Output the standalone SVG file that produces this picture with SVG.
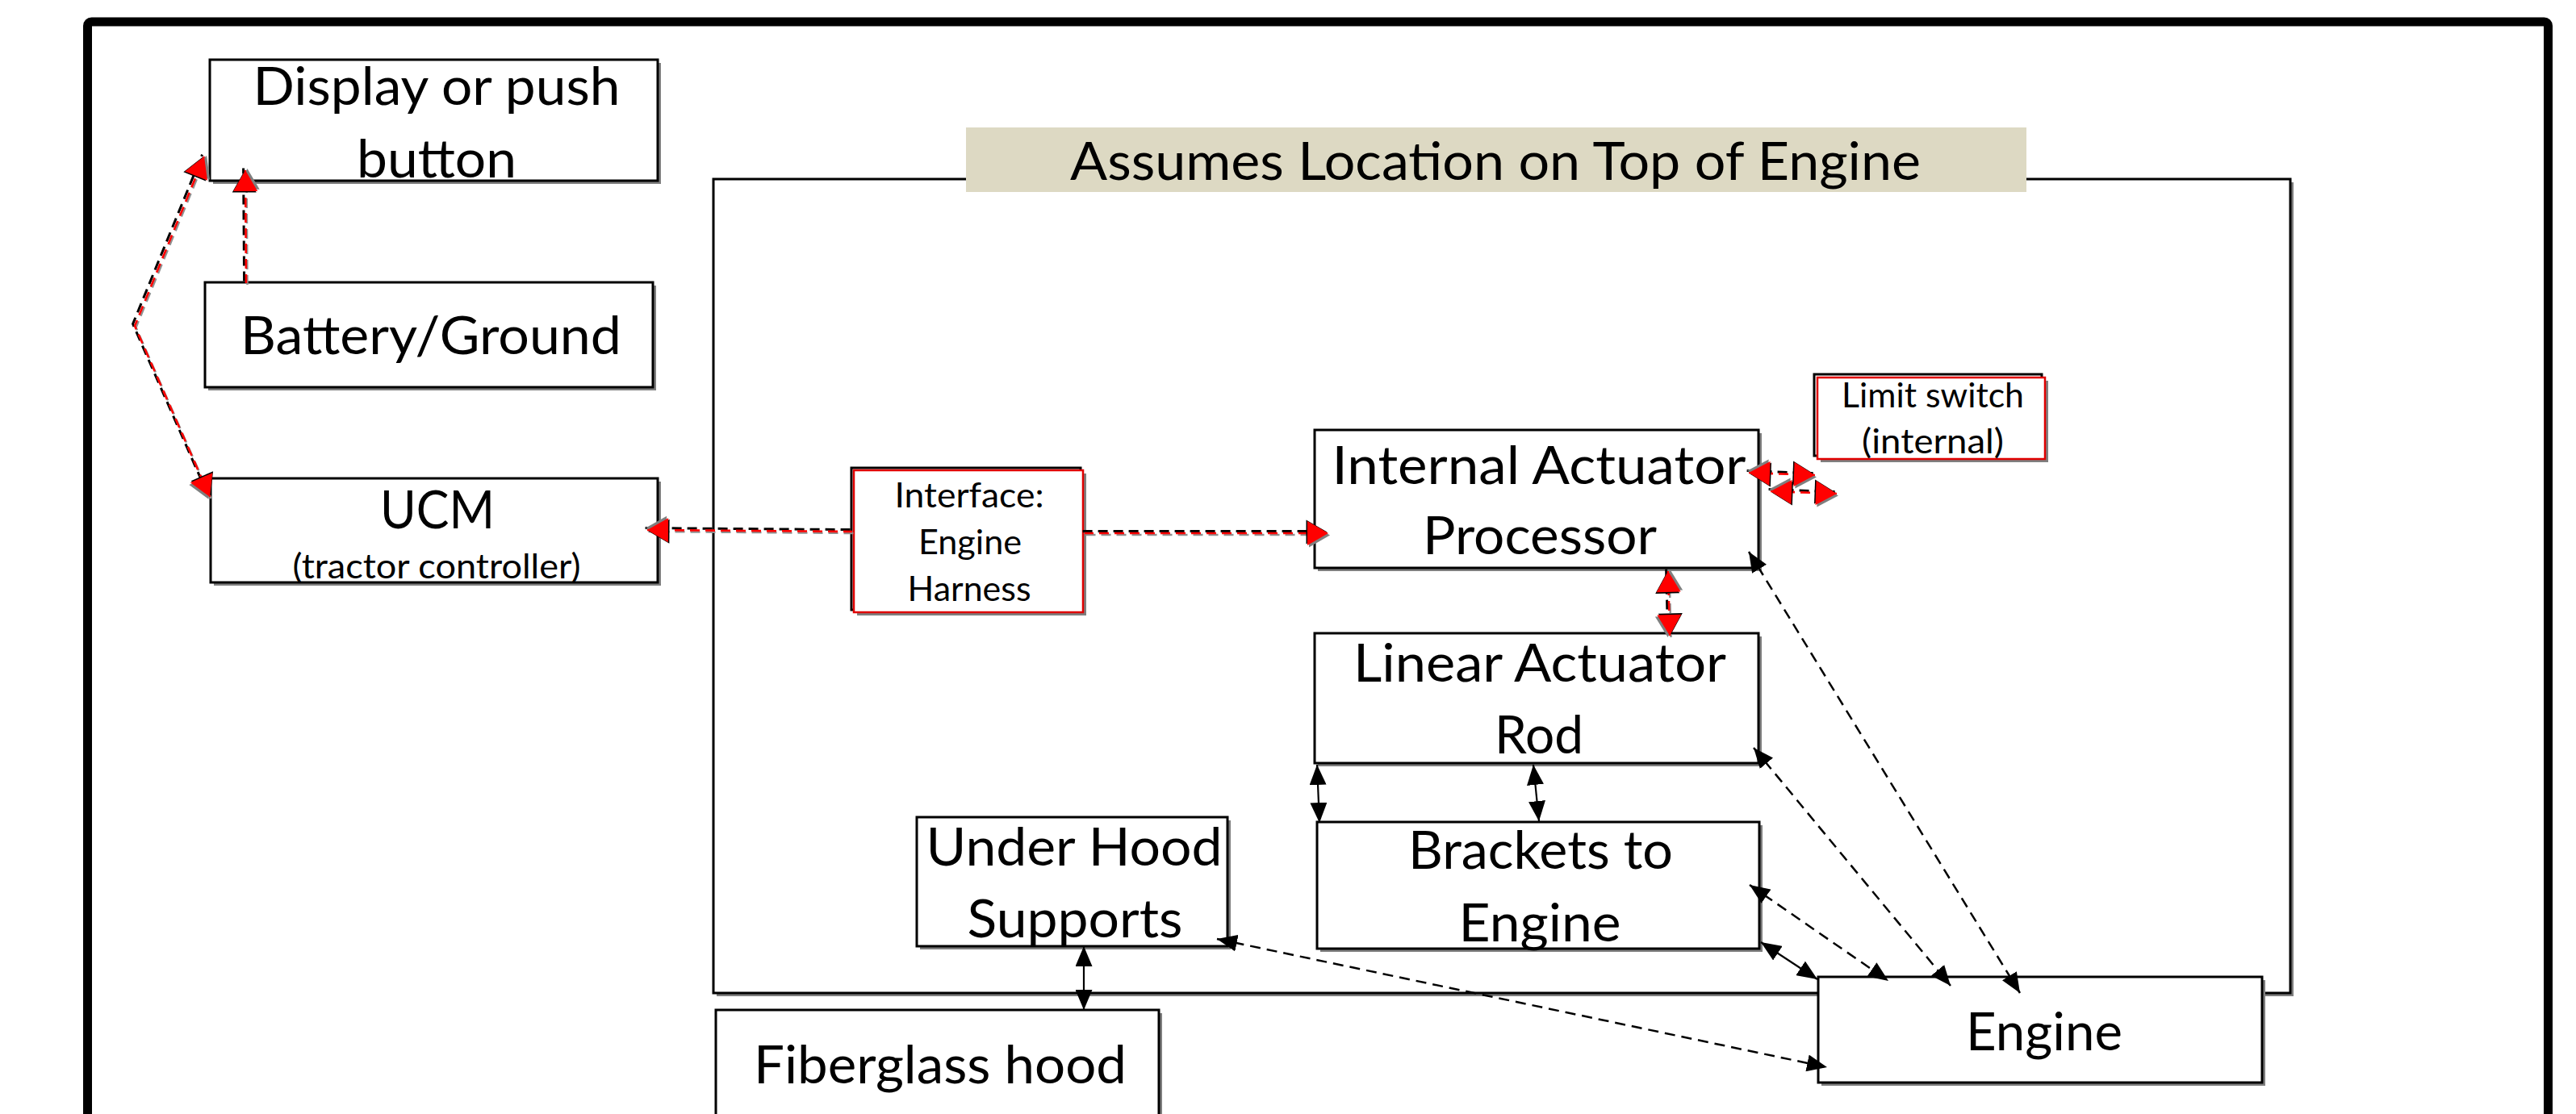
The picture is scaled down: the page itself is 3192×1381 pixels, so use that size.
<svg xmlns="http://www.w3.org/2000/svg" width="3192" height="1381" viewBox="0 0 3192 1381">
<style>
.bg{fill:#fff}
.box{fill:#fff;stroke:#000;stroke-width:3}
.sh{fill:#7f7f7f}
.blk{fill:none;stroke:#000;stroke-width:3}
.red{fill:#fff;stroke:#e00000;stroke-width:2.5}
.t{font-family:Lato,"Open Sans","Noto Sans",sans-serif;font-size:66px;text-anchor:middle;fill:#000}
.s{font-size:42px}
.rs{fill:none;stroke:#909090;stroke-width:2.5;stroke-dasharray:12 7}
.rk{fill:none;stroke:#000;stroke-width:3;stroke-dasharray:12 7}
.rr{fill:none;stroke:#ff0000;stroke-width:2.6;stroke-dasharray:12 7;stroke-dashoffset:1}
.dl{fill:none;stroke:#000;stroke-width:2.5;stroke-dasharray:13 8}
.sl{fill:none;stroke:#000;stroke-width:2.2}
</style>
<defs>
<marker id="ra" markerUnits="userSpaceOnUse" viewBox="-4 -4 36 40" markerWidth="36" markerHeight="40" refX="26" refY="15" orient="auto-start-reverse">
<path d="M2,2.5 L28,17.5 L2,32.5 Z" fill="#7f7f7f"/>
<path d="M-1.5,-1.5 L24.5,13.5 L-1.5,28.5 Z" fill="#000"/>
<path d="M0,0 L26,15 L0,30 Z" fill="#ff0000"/>
</marker>
<marker id="ab" markerUnits="userSpaceOnUse" viewBox="0 0 25 21" markerWidth="25" markerHeight="21" refX="25" refY="10.5" orient="auto-start-reverse">
<path d="M0,0 L25,10.5 L0,21 Z" fill="#000"/>
</marker>
</defs>
<rect class="bg" x="0" y="0" width="3192" height="1381"/>
<rect x="108.5" y="27" width="3049" height="1420" rx="5" fill="none" stroke="#000" stroke-width="11"/>

<g id="container">
<rect class="sh" x="888" y="226" width="1954" height="1009"/>
<rect class="box" x="884" y="222" width="1954" height="1009"/>
</g>
<g id="title">
<rect x="1197" y="158" width="1314" height="80" fill="#DDD9C3"/>
<text class="t" x="1853" y="223" textLength="1054" lengthAdjust="spacingAndGlyphs">Assumes Location on Top of Engine</text>
</g>

<g id="display">
<rect class="sh" x="264" y="78" width="555" height="150"/>
<rect class="box" x="260" y="74" width="555" height="150"/>
<text class="t" x="541" y="130" textLength="455" lengthAdjust="spacingAndGlyphs">Display or push</text>
<text class="t" x="541" y="220" textLength="198" lengthAdjust="spacingAndGlyphs">button</text>
</g>
<g id="battery">
<rect class="sh" x="258" y="354" width="555" height="130"/>
<rect class="box" x="254" y="350" width="555" height="130"/>
<text class="t" x="534" y="439" textLength="472" lengthAdjust="spacingAndGlyphs">Battery/Ground</text>
</g>
<g id="ucm">
<rect class="sh" x="265" y="597" width="554" height="129"/>
<rect class="box" x="261" y="593" width="554" height="129"/>
<text class="t" x="542" y="655" textLength="142" lengthAdjust="spacingAndGlyphs">UCM</text>
<text class="t s" x="541" y="717" textLength="357" lengthAdjust="spacingAndGlyphs">(tractor controller)</text>
</g>
<g id="interface">
<rect class="sh" x="1062" y="587" width="284" height="176"/>
<rect class="blk" x="1055" y="580" width="284" height="176"/>
<rect class="red" x="1058" y="583" width="284" height="176"/>
<text class="t s" x="1201" y="629" textLength="185" lengthAdjust="spacingAndGlyphs">Interface:</text>
<text class="t s" x="1202" y="687" textLength="128" lengthAdjust="spacingAndGlyphs">Engine</text>
<text class="t s" x="1201" y="745" textLength="153" lengthAdjust="spacingAndGlyphs">Harness</text>
</g>
<g id="processor">
<rect class="sh" x="1633" y="537" width="550" height="171"/>
<rect class="box" x="1629" y="533" width="550" height="171"/>
<text class="t" x="1907" y="600" textLength="513" lengthAdjust="spacingAndGlyphs">Internal Actuator</text>
<text class="t" x="1908" y="687" textLength="290" lengthAdjust="spacingAndGlyphs">Processor</text>
</g>
<g id="limit">
<rect class="sh" x="2256" y="472" width="282" height="101"/>
<rect class="blk" x="2248" y="464" width="282" height="101"/>
<rect class="red" x="2252" y="468" width="282" height="101"/>
<text class="t s" x="2395" y="505" textLength="226" lengthAdjust="spacingAndGlyphs">Limit switch</text>
<text class="t s" x="2395" y="562" textLength="176" lengthAdjust="spacingAndGlyphs">(internal)</text>
</g>
<g id="rod">
<rect class="sh" x="1633" y="789" width="550" height="161"/>
<rect class="box" x="1629" y="785" width="550" height="161"/>
<text class="t" x="1908" y="845" textLength="462" lengthAdjust="spacingAndGlyphs">Linear Actuator</text>
<text class="t" x="1907" y="934" textLength="110" lengthAdjust="spacingAndGlyphs">Rod</text>
</g>
<g id="brackets">
<rect class="sh" x="1636" y="1023" width="548" height="157"/>
<rect class="box" x="1632" y="1019" width="548" height="157"/>
<text class="t" x="1909" y="1077" textLength="328" lengthAdjust="spacingAndGlyphs">Brackets to</text>
<text class="t" x="1908" y="1167" textLength="201" lengthAdjust="spacingAndGlyphs">Engine</text>
</g>
<g id="supports">
<rect class="sh" x="1140" y="1017" width="385" height="160"/>
<rect class="box" x="1136" y="1013" width="385" height="160"/>
<text class="t" x="1331" y="1073" textLength="367" lengthAdjust="spacingAndGlyphs">Under Hood</text>
<text class="t" x="1332" y="1162" textLength="267" lengthAdjust="spacingAndGlyphs">Supports</text>
</g>
<g id="fiberglass">
<rect class="sh" x="891" y="1256" width="549" height="160"/>
<rect class="box" x="887" y="1252" width="549" height="160"/>
<text class="t" x="1165" y="1343" textLength="462" lengthAdjust="spacingAndGlyphs">Fiberglass hood</text>
</g>
<g id="engine">
<rect class="sh" x="2257" y="1215" width="550" height="131"/>
<rect class="box" x="2253" y="1211" width="550" height="131"/>
<text class="t" x="2533" y="1302" textLength="194" lengthAdjust="spacingAndGlyphs">Engine</text>
</g>

<g id="connectors">
<g transform="translate(2.5,3)">
<path class="rs" d="M259,615 L166,403 L252,193"/>
<path class="rs" d="M304,350 L303,210"/>
<path class="rs" d="M1055,658 L801,656"/>
<path class="rs" d="M1343,660 L1645,660"/>
<path class="rs" d="M2066,707 L2068,787"/>
</g>
<g transform="translate(-1.4,-1.4)">
<path class="rk" d="M259,615 L166,403 L252,193"/>
<path class="rk" d="M304,350 L303,210"/>
<path class="rk" d="M1055,658 L801,656"/>
<path class="rk" d="M1343,660 L1645,660"/>
<path class="rk" d="M2066,707 L2068,787"/>
<path class="rk" d="M2166,585 L2248,588"/>
<path class="rk" d="M2193,608 L2275,611"/>
</g>
<g transform="translate(1,1)">
<path class="rr" d="M259,615 L166,403 L252,193" marker-start="url(#ra)" marker-end="url(#ra)"/>
<path class="rr" d="M304,350 L303,210" marker-end="url(#ra)"/>
<path class="rr" d="M1055,658 L801,656" marker-end="url(#ra)"/>
<path class="rr" d="M1343,660 L1645,660" marker-end="url(#ra)"/>
<path class="rr" d="M2066,707 L2068,787" marker-start="url(#ra)" marker-end="url(#ra)"/>
<path class="rr" d="M2166,585 L2248,588" marker-start="url(#ra)" marker-end="url(#ra)"/>
<path class="rr" d="M2193,608 L2275,611" marker-start="url(#ra)" marker-end="url(#ra)"/>
</g>
<path class="sl" d="M1632,948 L1635,1020" marker-start="url(#ab)" marker-end="url(#ab)"/>
<path class="sl" d="M1900,948 L1907,1018" marker-start="url(#ab)" marker-end="url(#ab)"/>
<path class="sl" d="M2182,1168 L2252,1214" marker-start="url(#ab)" marker-end="url(#ab)"/>
<path class="sl" d="M1343,1173 L1343,1252" marker-start="url(#ab)" marker-end="url(#ab)"/>
<path class="dl" d="M2168,1097 L2340,1216" marker-start="url(#ab)" marker-end="url(#ab)"/>
<path class="dl" d="M2173,927 L2417,1222" marker-start="url(#ab)" marker-end="url(#ab)"/>
<path class="dl" d="M2167,684 L2503,1231" marker-start="url(#ab)" marker-end="url(#ab)"/>
<path class="dl" d="M1508,1164 L2264,1323" marker-start="url(#ab)" marker-end="url(#ab)"/>
</g>
</svg>
